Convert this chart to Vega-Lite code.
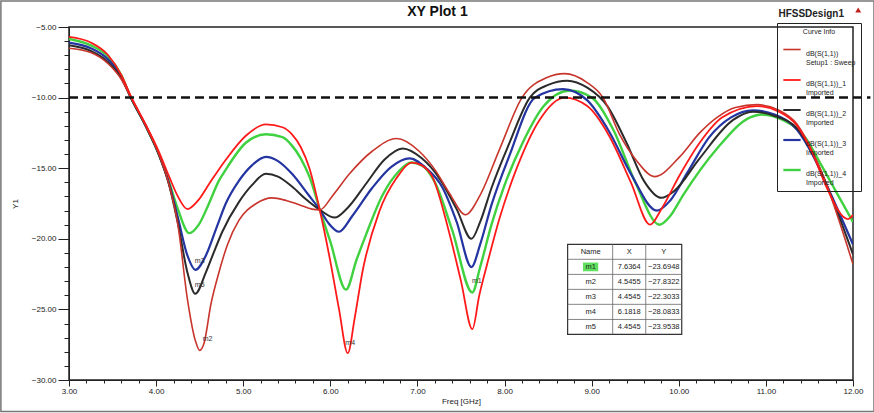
{
  "$schema": "https://vega.github.io/schema/vega-lite/v6.json",
  "width": 784,
  "height": 353,
  "autosize": {"type": "none"},
  "padding": {"left": 69, "top": 27, "right": 21, "bottom": 33},
  "background": "white",
  "config": {"view": {"stroke": "#222", "strokeWidth": 1.5}, "font": "Liberation Sans"},
  "datasets": {
    "curves": [
      {"s":"dB(S(1,1))_4","f":3.00,"v":-5.85},{"s":"dB(S(1,1))_4","f":3.25,"v":-6.3},{"s":"dB(S(1,1))_4","f":3.45,"v":-7.1},{"s":"dB(S(1,1))_4","f":3.60,"v":-8.4},{"s":"dB(S(1,1))_4","f":3.71,"v":-10.0},{"s":"dB(S(1,1))_4","f":3.88,"v":-12.0},{"s":"dB(S(1,1))_4","f":4.03,"v":-14.0},{"s":"dB(S(1,1))_4","f":4.15,"v":-16.0},{"s":"dB(S(1,1))_4","f":4.25,"v":-17.9},{"s":"dB(S(1,1))_4","f":4.38,"v":-19.6},{"s":"dB(S(1,1))_4","f":4.49,"v":-19.0},{"s":"dB(S(1,1))_4","f":4.60,"v":-17.6},{"s":"dB(S(1,1))_4","f":4.72,"v":-15.9},{"s":"dB(S(1,1))_4","f":4.80,"v":-15.1},{"s":"dB(S(1,1))_4","f":5.03,"v":-13.2},{"s":"dB(S(1,1))_4","f":5.26,"v":-12.6},{"s":"dB(S(1,1))_4","f":5.45,"v":-12.8},{"s":"dB(S(1,1))_4","f":5.56,"v":-13.4},{"s":"dB(S(1,1))_4","f":5.66,"v":-14.3},{"s":"dB(S(1,1))_4","f":5.76,"v":-15.6},{"s":"dB(S(1,1))_4","f":5.88,"v":-17.95},{"s":"dB(S(1,1))_4","f":6.00,"v":-20.2},{"s":"dB(S(1,1))_4","f":6.18,"v":-23.6},{"s":"dB(S(1,1))_4","f":6.30,"v":-21.5},{"s":"dB(S(1,1))_4","f":6.41,"v":-19.7},{"s":"dB(S(1,1))_4","f":6.60,"v":-16.9},{"s":"dB(S(1,1))_4","f":6.79,"v":-15.2},{"s":"dB(S(1,1))_4","f":6.93,"v":-14.6},{"s":"dB(S(1,1))_4","f":7.05,"v":-14.8},{"s":"dB(S(1,1))_4","f":7.20,"v":-16.0},{"s":"dB(S(1,1))_4","f":7.40,"v":-19.4},{"s":"dB(S(1,1))_4","f":7.63,"v":-23.8},{"s":"dB(S(1,1))_4","f":7.72,"v":-22.0},{"s":"dB(S(1,1))_4","f":7.85,"v":-19.0},{"s":"dB(S(1,1))_4","f":8.00,"v":-16.2},{"s":"dB(S(1,1))_4","f":8.20,"v":-13.3},{"s":"dB(S(1,1))_4","f":8.45,"v":-10.6},{"s":"dB(S(1,1))_4","f":8.75,"v":-9.5},{"s":"dB(S(1,1))_4","f":9.00,"v":-10.0},{"s":"dB(S(1,1))_4","f":9.25,"v":-12.3},{"s":"dB(S(1,1))_4","f":9.50,"v":-16.0},{"s":"dB(S(1,1))_4","f":9.78,"v":-19.0},{"s":"dB(S(1,1))_4","f":9.90,"v":-18.4},{"s":"dB(S(1,1))_4","f":10.05,"v":-16.9},{"s":"dB(S(1,1))_4","f":10.44,"v":-13.6},{"s":"dB(S(1,1))_4","f":10.82,"v":-11.4},{"s":"dB(S(1,1))_4","f":10.95,"v":-11.2},{"s":"dB(S(1,1))_4","f":11.20,"v":-11.6},{"s":"dB(S(1,1))_4","f":11.45,"v":-12.8},{"s":"dB(S(1,1))_4","f":11.62,"v":-14.6},{"s":"dB(S(1,1))_4","f":11.80,"v":-16.6},{"s":"dB(S(1,1))_4","f":12.00,"v":-18.8},

      {"s":"dB(S(1,1))_3","f":3.00,"v":-6.1},{"s":"dB(S(1,1))_3","f":3.25,"v":-6.5},{"s":"dB(S(1,1))_3","f":3.45,"v":-7.3},{"s":"dB(S(1,1))_3","f":3.60,"v":-8.5},{"s":"dB(S(1,1))_3","f":3.71,"v":-10.0},{"s":"dB(S(1,1))_3","f":3.88,"v":-12.0},{"s":"dB(S(1,1))_3","f":4.03,"v":-14.0},{"s":"dB(S(1,1))_3","f":4.15,"v":-16.1},{"s":"dB(S(1,1))_3","f":4.25,"v":-18.5},{"s":"dB(S(1,1))_3","f":4.36,"v":-21.2},{"s":"dB(S(1,1))_3","f":4.45,"v":-22.2},{"s":"dB(S(1,1))_3","f":4.57,"v":-21.2},{"s":"dB(S(1,1))_3","f":4.70,"v":-19.1},{"s":"dB(S(1,1))_3","f":4.80,"v":-17.5},{"s":"dB(S(1,1))_3","f":4.95,"v":-15.9},{"s":"dB(S(1,1))_3","f":5.10,"v":-14.8},{"s":"dB(S(1,1))_3","f":5.26,"v":-14.2},{"s":"dB(S(1,1))_3","f":5.40,"v":-14.5},{"s":"dB(S(1,1))_3","f":5.56,"v":-15.4},{"s":"dB(S(1,1))_3","f":5.75,"v":-16.9},{"s":"dB(S(1,1))_3","f":5.88,"v":-17.95},{"s":"dB(S(1,1))_3","f":5.98,"v":-18.9},{"s":"dB(S(1,1))_3","f":6.10,"v":-19.5},{"s":"dB(S(1,1))_3","f":6.25,"v":-18.4},{"s":"dB(S(1,1))_3","f":6.48,"v":-16.4},{"s":"dB(S(1,1))_3","f":6.70,"v":-14.9},{"s":"dB(S(1,1))_3","f":6.91,"v":-14.3},{"s":"dB(S(1,1))_3","f":7.10,"v":-15.0},{"s":"dB(S(1,1))_3","f":7.29,"v":-16.4},{"s":"dB(S(1,1))_3","f":7.45,"v":-18.8},{"s":"dB(S(1,1))_3","f":7.62,"v":-22.0},{"s":"dB(S(1,1))_3","f":7.72,"v":-20.4},{"s":"dB(S(1,1))_3","f":7.85,"v":-17.6},{"s":"dB(S(1,1))_3","f":8.05,"v":-14.2},{"s":"dB(S(1,1))_3","f":8.35,"v":-10.0},{"s":"dB(S(1,1))_3","f":8.67,"v":-9.4},{"s":"dB(S(1,1))_3","f":8.95,"v":-10.2},{"s":"dB(S(1,1))_3","f":9.20,"v":-12.4},{"s":"dB(S(1,1))_3","f":9.45,"v":-15.4},{"s":"dB(S(1,1))_3","f":9.75,"v":-18.0},{"s":"dB(S(1,1))_3","f":9.90,"v":-17.3},{"s":"dB(S(1,1))_3","f":10.10,"v":-15.3},{"s":"dB(S(1,1))_3","f":10.35,"v":-12.8},{"s":"dB(S(1,1))_3","f":10.60,"v":-11.4},{"s":"dB(S(1,1))_3","f":10.85,"v":-10.9},{"s":"dB(S(1,1))_3","f":11.10,"v":-11.2},{"s":"dB(S(1,1))_3","f":11.36,"v":-12.3},{"s":"dB(S(1,1))_3","f":11.54,"v":-14.1},{"s":"dB(S(1,1))_3","f":11.75,"v":-16.9},{"s":"dB(S(1,1))_3","f":12.00,"v":-20.4},

      {"s":"dB(S(1,1))_2","f":3.00,"v":-6.3},{"s":"dB(S(1,1))_2","f":3.25,"v":-6.7},{"s":"dB(S(1,1))_2","f":3.45,"v":-7.5},{"s":"dB(S(1,1))_2","f":3.60,"v":-8.6},{"s":"dB(S(1,1))_2","f":3.71,"v":-10.0},{"s":"dB(S(1,1))_2","f":3.88,"v":-12.0},{"s":"dB(S(1,1))_2","f":4.03,"v":-14.0},{"s":"dB(S(1,1))_2","f":4.15,"v":-16.2},{"s":"dB(S(1,1))_2","f":4.25,"v":-18.9},{"s":"dB(S(1,1))_2","f":4.36,"v":-22.4},{"s":"dB(S(1,1))_2","f":4.45,"v":-23.9},{"s":"dB(S(1,1))_2","f":4.57,"v":-22.4},{"s":"dB(S(1,1))_2","f":4.66,"v":-21.0},{"s":"dB(S(1,1))_2","f":4.76,"v":-19.5},{"s":"dB(S(1,1))_2","f":4.95,"v":-17.4},{"s":"dB(S(1,1))_2","f":5.10,"v":-16.2},{"s":"dB(S(1,1))_2","f":5.26,"v":-15.4},{"s":"dB(S(1,1))_2","f":5.40,"v":-15.6},{"s":"dB(S(1,1))_2","f":5.56,"v":-16.3},{"s":"dB(S(1,1))_2","f":5.72,"v":-17.2},{"s":"dB(S(1,1))_2","f":5.88,"v":-17.95},{"s":"dB(S(1,1))_2","f":6.05,"v":-18.5},{"s":"dB(S(1,1))_2","f":6.20,"v":-17.8},{"s":"dB(S(1,1))_2","f":6.41,"v":-16.1},{"s":"dB(S(1,1))_2","f":6.62,"v":-14.4},{"s":"dB(S(1,1))_2","f":6.83,"v":-13.6},{"s":"dB(S(1,1))_2","f":7.05,"v":-14.3},{"s":"dB(S(1,1))_2","f":7.25,"v":-15.7},{"s":"dB(S(1,1))_2","f":7.45,"v":-17.9},{"s":"dB(S(1,1))_2","f":7.62,"v":-20.0},{"s":"dB(S(1,1))_2","f":7.72,"v":-18.8},{"s":"dB(S(1,1))_2","f":7.85,"v":-16.4},{"s":"dB(S(1,1))_2","f":8.05,"v":-13.3},{"s":"dB(S(1,1))_2","f":8.29,"v":-10.0},{"s":"dB(S(1,1))_2","f":8.50,"v":-9.1},{"s":"dB(S(1,1))_2","f":8.72,"v":-8.8},{"s":"dB(S(1,1))_2","f":8.95,"v":-9.3},{"s":"dB(S(1,1))_2","f":9.18,"v":-10.6},{"s":"dB(S(1,1))_2","f":9.40,"v":-13.2},{"s":"dB(S(1,1))_2","f":9.60,"v":-15.9},{"s":"dB(S(1,1))_2","f":9.80,"v":-17.1},{"s":"dB(S(1,1))_2","f":9.95,"v":-16.6},{"s":"dB(S(1,1))_2","f":10.24,"v":-14.3},{"s":"dB(S(1,1))_2","f":10.62,"v":-11.6},{"s":"dB(S(1,1))_2","f":10.85,"v":-11.0},{"s":"dB(S(1,1))_2","f":11.10,"v":-11.3},{"s":"dB(S(1,1))_2","f":11.36,"v":-12.2},{"s":"dB(S(1,1))_2","f":11.54,"v":-14.0},{"s":"dB(S(1,1))_2","f":11.75,"v":-17.0},{"s":"dB(S(1,1))_2","f":12.00,"v":-21.1},

      {"s":"dB(S(1,1))","f":3.00,"v":-6.5},{"s":"dB(S(1,1))","f":3.25,"v":-6.8},{"s":"dB(S(1,1))","f":3.45,"v":-7.6},{"s":"dB(S(1,1))","f":3.60,"v":-8.7},{"s":"dB(S(1,1))","f":3.71,"v":-10.0},{"s":"dB(S(1,1))","f":3.88,"v":-12.0},{"s":"dB(S(1,1))","f":4.03,"v":-14.0},{"s":"dB(S(1,1))","f":4.15,"v":-16.2},{"s":"dB(S(1,1))","f":4.25,"v":-19.0},{"s":"dB(S(1,1))","f":4.36,"v":-24.3},{"s":"dB(S(1,1))","f":4.45,"v":-27.2},{"s":"dB(S(1,1))","f":4.50,"v":-27.9},{"s":"dB(S(1,1))","f":4.55,"v":-27.4},{"s":"dB(S(1,1))","f":4.63,"v":-24.6},{"s":"dB(S(1,1))","f":4.72,"v":-22.4},{"s":"dB(S(1,1))","f":4.82,"v":-20.4},{"s":"dB(S(1,1))","f":4.95,"v":-18.7},{"s":"dB(S(1,1))","f":5.15,"v":-17.5},{"s":"dB(S(1,1))","f":5.33,"v":-17.1},{"s":"dB(S(1,1))","f":5.50,"v":-17.3},{"s":"dB(S(1,1))","f":5.65,"v":-17.6},{"s":"dB(S(1,1))","f":5.79,"v":-17.9},{"s":"dB(S(1,1))","f":5.88,"v":-17.95},{"s":"dB(S(1,1))","f":6.02,"v":-17.0},{"s":"dB(S(1,1))","f":6.22,"v":-15.4},{"s":"dB(S(1,1))","f":6.48,"v":-13.8},{"s":"dB(S(1,1))","f":6.76,"v":-12.9},{"s":"dB(S(1,1))","f":7.02,"v":-13.8},{"s":"dB(S(1,1))","f":7.20,"v":-15.1},{"s":"dB(S(1,1))","f":7.37,"v":-16.8},{"s":"dB(S(1,1))","f":7.55,"v":-18.3},{"s":"dB(S(1,1))","f":7.72,"v":-16.9},{"s":"dB(S(1,1))","f":7.94,"v":-13.7},{"s":"dB(S(1,1))","f":8.20,"v":-10.0},{"s":"dB(S(1,1))","f":8.48,"v":-8.6},{"s":"dB(S(1,1))","f":8.69,"v":-8.3},{"s":"dB(S(1,1))","f":8.94,"v":-8.9},{"s":"dB(S(1,1))","f":9.13,"v":-10.0},{"s":"dB(S(1,1))","f":9.32,"v":-12.6},{"s":"dB(S(1,1))","f":9.52,"v":-14.5},{"s":"dB(S(1,1))","f":9.72,"v":-15.6},{"s":"dB(S(1,1))","f":10.01,"v":-14.2},{"s":"dB(S(1,1))","f":10.24,"v":-12.5},{"s":"dB(S(1,1))","f":10.44,"v":-11.4},{"s":"dB(S(1,1))","f":10.65,"v":-10.7},{"s":"dB(S(1,1))","f":10.90,"v":-10.5},{"s":"dB(S(1,1))","f":11.15,"v":-10.9},{"s":"dB(S(1,1))","f":11.36,"v":-11.9},{"s":"dB(S(1,1))","f":11.54,"v":-13.9},{"s":"dB(S(1,1))","f":11.70,"v":-16.2},{"s":"dB(S(1,1))","f":11.85,"v":-18.9},{"s":"dB(S(1,1))","f":12.00,"v":-21.8},

      {"s":"dB(S(1,1))_1","f":3.00,"v":-5.7},{"s":"dB(S(1,1))_1","f":3.25,"v":-6.1},{"s":"dB(S(1,1))_1","f":3.45,"v":-7.0},{"s":"dB(S(1,1))_1","f":3.60,"v":-8.4},{"s":"dB(S(1,1))_1","f":3.71,"v":-9.9},{"s":"dB(S(1,1))_1","f":3.88,"v":-11.9},{"s":"dB(S(1,1))_1","f":4.03,"v":-13.8},{"s":"dB(S(1,1))_1","f":4.15,"v":-15.6},{"s":"dB(S(1,1))_1","f":4.25,"v":-17.0},{"s":"dB(S(1,1))_1","f":4.36,"v":-17.9},{"s":"dB(S(1,1))_1","f":4.48,"v":-17.3},{"s":"dB(S(1,1))_1","f":4.61,"v":-16.1},{"s":"dB(S(1,1))_1","f":4.80,"v":-14.4},{"s":"dB(S(1,1))_1","f":5.03,"v":-12.7},{"s":"dB(S(1,1))_1","f":5.26,"v":-11.9},{"s":"dB(S(1,1))_1","f":5.45,"v":-12.1},{"s":"dB(S(1,1))_1","f":5.56,"v":-12.6},{"s":"dB(S(1,1))_1","f":5.66,"v":-13.5},{"s":"dB(S(1,1))_1","f":5.76,"v":-15.0},{"s":"dB(S(1,1))_1","f":5.88,"v":-18.0},{"s":"dB(S(1,1))_1","f":6.00,"v":-21.6},{"s":"dB(S(1,1))_1","f":6.10,"v":-25.0},{"s":"dB(S(1,1))_1","f":6.20,"v":-28.1},{"s":"dB(S(1,1))_1","f":6.28,"v":-25.6},{"s":"dB(S(1,1))_1","f":6.37,"v":-22.3},{"s":"dB(S(1,1))_1","f":6.56,"v":-18.1},{"s":"dB(S(1,1))_1","f":6.76,"v":-15.7},{"s":"dB(S(1,1))_1","f":6.94,"v":-14.6},{"s":"dB(S(1,1))_1","f":7.05,"v":-14.8},{"s":"dB(S(1,1))_1","f":7.17,"v":-15.6},{"s":"dB(S(1,1))_1","f":7.37,"v":-19.7},{"s":"dB(S(1,1))_1","f":7.50,"v":-23.0},{"s":"dB(S(1,1))_1","f":7.63,"v":-26.4},{"s":"dB(S(1,1))_1","f":7.71,"v":-24.0},{"s":"dB(S(1,1))_1","f":7.80,"v":-21.8},{"s":"dB(S(1,1))_1","f":7.94,"v":-18.6},{"s":"dB(S(1,1))_1","f":8.14,"v":-15.0},{"s":"dB(S(1,1))_1","f":8.40,"v":-11.6},{"s":"dB(S(1,1))_1","f":8.69,"v":-10.0},{"s":"dB(S(1,1))_1","f":8.95,"v":-10.6},{"s":"dB(S(1,1))_1","f":9.20,"v":-12.7},{"s":"dB(S(1,1))_1","f":9.45,"v":-16.0},{"s":"dB(S(1,1))_1","f":9.67,"v":-19.0},{"s":"dB(S(1,1))_1","f":9.80,"v":-17.9},{"s":"dB(S(1,1))_1","f":10.01,"v":-15.5},{"s":"dB(S(1,1))_1","f":10.24,"v":-13.2},{"s":"dB(S(1,1))_1","f":10.50,"v":-11.4},{"s":"dB(S(1,1))_1","f":10.90,"v":-10.6},{"s":"dB(S(1,1))_1","f":11.15,"v":-11.0},{"s":"dB(S(1,1))_1","f":11.36,"v":-12.0},{"s":"dB(S(1,1))_1","f":11.54,"v":-14.0},{"s":"dB(S(1,1))_1","f":11.70,"v":-16.4},{"s":"dB(S(1,1))_1","f":11.94,"v":-18.6},{"s":"dB(S(1,1))_1","f":12.00,"v":-18.3}
    ],
    "markers": [
      {"Name":"m1","X":7.6364,"Y":-23.6948,"ty":-21.99},
      {"Name":"m2","X":4.5455,"Y":-27.8322,"ty":-23.05},
      {"Name":"m3","X":4.4545,"Y":-22.3033,"ty":-24.11},
      {"Name":"m4","X":6.1818,"Y":-28.0833,"ty":-25.18},
      {"Name":"m5","X":4.4545,"Y":-23.9538,"ty":-26.24}
    ]
  },
  "layer": [
    {
      "data": {"values": [{}]},
      "mark": {"type": "rect", "fillOpacity": 0, "stroke": "#777", "strokeWidth": 1.5, "clip": false},
      "encoding": {
        "x": {"datum": 2.218, "type": "quantitative", "axis": null},
        "x2": {"datum": 12.241},
        "y": {"datum": -3.156, "type": "quantitative", "axis": null},
        "y2": {"datum": -32.23}
      }
    },
    {
      "data": {"name": "curves"},
      "mark": {"type": "line", "interpolate": "monotone", "clip": true},
      "encoding": {
        "x": {"field": "f", "type": "quantitative", "scale": {"domain": [3, 12], "nice": false, "zero": false},
          "axis": {"values": [3,4,5,6,7,8,9,10,11,12], "format": ".2f", "title": "Freq [GHz]", "titleFontSize": 8, "titleFontWeight": "normal", "titleColor": "#222", "titlePadding": 2, "labelFontSize": 8, "labelColor": "#222", "tickSize": 6, "labelPadding": 1, "domainColor": "#222", "tickColor": "#222", "grid": false, "labelFlush": false}},
        "y": {"field": "v", "type": "quantitative", "scale": {"domain": [-30, -5], "nice": false, "zero": false},
          "axis": {"values": [-5,-10,-15,-20,-25,-30], "format": ".2f", "title": "Y1", "titleFontSize": 8, "titleFontWeight": "normal", "titleColor": "#222", "titlePadding": 12, "labelFontSize": 8, "labelColor": "#222", "tickSize": 11, "labelPadding": 2, "domainColor": "#222", "tickColor": "#222", "grid": false}},
        "color": {"field": "s", "type": "nominal",
          "scale": {"domain": ["dB(S(1,1))", "dB(S(1,1))_1", "dB(S(1,1))_2", "dB(S(1,1))_3", "dB(S(1,1))_4"], "range": ["#c8352c", "#ff1a1a", "#2b2b2b", "#2434a0", "#3fd13f"]},
          "legend": {"orient": "none", "legendX": 708, "legendY": -4, "title": "Curve Info", "titleFontSize": 7, "titleFontWeight": "normal", "titleColor": "#222", "titleAnchor": "middle", "labelFontSize": 7, "labelColor": "#222", "symbolType": "stroke", "symbolSize": 300, "symbolStrokeWidth": 2, "strokeColor": "#222", "padding": 5, "rowPadding": 4, "labelLimit": 200, "labelBaseline": "top", "labelExpr": "[datum.label, datum.label == 'dB(S(1,1))' ? 'Setup1 : Sweep' : 'Imported']"}},
        "strokeWidth": {"field": "s", "type": "ordinal",
          "scale": {"domain": ["dB(S(1,1))", "dB(S(1,1))_1", "dB(S(1,1))_2", "dB(S(1,1))_3", "dB(S(1,1))_4"], "range": [1.6, 2.4, 1.7, 1.7, 1.7]},
          "legend": null}
      }
    },
    {
      "data": {"values": [{}]},
      "mark": {"type": "point", "opacity": 0},
      "encoding": {
        "x": {"datum": 3, "type": "quantitative", "axis": {"orient": "bottom", "values": [3.2,3.4,3.6,3.8,4.2,4.4,4.6,4.8,5.2,5.4,5.6,5.8,6.2,6.4,6.6,6.8,7.2,7.4,7.6,7.8,8.2,8.4,8.6,8.8,9.2,9.4,9.6,9.8,10.2,10.4,10.6,10.8,11.2,11.4,11.6,11.8], "labels": false, "tickSize": 3, "domain": false, "title": null, "grid": false, "tickColor": "#222"}},
        "y": {"datum": -5, "type": "quantitative", "axis": {"orient": "left", "values": [-6,-7,-8,-9,-11,-12,-13,-14,-16,-17,-18,-19,-21,-22,-23,-24,-26,-27,-28,-29], "labels": false, "tickSize": 5, "domain": false, "title": null, "grid": false, "tickColor": "#222"}}
      }
    },
    {
      "data": {"values": [{}]},
      "mark": {"type": "rule", "strokeDash": [9, 5], "strokeWidth": 2.5, "color": "#111", "clip": false},
      "encoding": {
        "x": {"datum": 3, "type": "quantitative", "axis": null},
        "x2": {"datum": 12.2},
        "y": {"datum": -10, "type": "quantitative", "axis": null}
      }
    },
    {
      "data": {"name": "markers"},
      "mark": {"type": "text", "fontSize": 7, "color": "#333", "dx": 4, "dy": -10},
      "encoding": {
        "x": {"field": "X", "type": "quantitative", "axis": null},
        "y": {"field": "Y", "type": "quantitative", "axis": null},
        "text": {"field": "Name"}
      }
    },
    {
      "data": {"values": [{}]},
      "mark": {"type": "rect", "fill": "white", "stroke": "#333", "strokeWidth": 1.2},
      "encoding": {
        "x": {"datum": 8.724, "type": "quantitative", "axis": null},
        "x2": {"datum": 10.034},
        "y": {"datum": -20.39, "type": "quantitative", "axis": null},
        "y2": {"datum": -26.77}
      }
    },
    {
      "data": {"values": [{}]},
      "mark": {"type": "rect", "fill": "#5fe05f"},
      "encoding": {
        "x": {"datum": 8.9, "type": "quantitative", "axis": null},
        "x2": {"datum": 9.075},
        "y": {"datum": -21.68, "type": "quantitative", "axis": null},
        "y2": {"datum": -22.3}
      }
    },
    {
      "data": {"values": [{"ty": -20.92}, {"ty": -21.99}, {"ty": -23.05}, {"ty": -24.11}, {"ty": -25.18}]},
      "mark": {"type": "rule", "color": "#666", "strokeWidth": 0.8, "yOffset": 7.5},
      "encoding": {
        "x": {"datum": 8.724, "type": "quantitative", "axis": null},
        "x2": {"datum": 10.034},
        "y": {"field": "ty", "type": "quantitative", "axis": null}
      }
    },
    {
      "data": {"values": [{"c": 9.241}, {"c": 9.621}]},
      "mark": {"type": "rule", "color": "#666", "strokeWidth": 0.8},
      "encoding": {
        "x": {"field": "c", "type": "quantitative", "axis": null},
        "y": {"datum": -20.39, "type": "quantitative", "axis": null},
        "y2": {"datum": -26.77}
      }
    },
    {
      "data": {"values": [{"Name": "Name", "X": "X", "Y": "Y"}]},
      "layer": [
        {"mark": {"type": "text", "fontSize": 7.5, "color": "#222"}, "encoding": {"x": {"datum": 8.989, "type": "quantitative", "axis": null}, "y": {"datum": -20.92, "type": "quantitative", "axis": null}, "text": {"field": "Name"}}},
        {"mark": {"type": "text", "fontSize": 7.5, "color": "#222"}, "encoding": {"x": {"datum": 9.431, "type": "quantitative", "axis": null}, "y": {"datum": -20.92, "type": "quantitative", "axis": null}, "text": {"field": "X"}}},
        {"mark": {"type": "text", "fontSize": 7.5, "color": "#222"}, "encoding": {"x": {"datum": 9.828, "type": "quantitative", "axis": null}, "y": {"datum": -20.92, "type": "quantitative", "axis": null}, "text": {"field": "Y"}}}
      ]
    },
    {
      "data": {"name": "markers"},
      "layer": [
        {"mark": {"type": "text", "fontSize": 7.5, "color": "#222"}, "encoding": {"x": {"datum": 8.989, "type": "quantitative", "axis": null}, "y": {"field": "ty", "type": "quantitative", "axis": null}, "text": {"field": "Name"}}},
        {"mark": {"type": "text", "fontSize": 7.5, "color": "#222"}, "encoding": {"x": {"datum": 9.431, "type": "quantitative", "axis": null}, "y": {"field": "ty", "type": "quantitative", "axis": null}, "text": {"field": "X", "format": ".4f"}}},
        {"mark": {"type": "text", "fontSize": 7.5, "color": "#222"}, "encoding": {"x": {"datum": 9.828, "type": "quantitative", "axis": null}, "y": {"field": "ty", "type": "quantitative", "axis": null}, "text": {"field": "Y", "format": ".4f"}}}
      ]
    },
    {
      "data": {"values": [{"t": "XY Plot 1"}]},
      "mark": {"type": "text", "fontSize": 14, "fontWeight": "bold", "color": "#111", "clip": false},
      "encoding": {
        "x": {"datum": 7.23, "type": "quantitative", "axis": null},
        "y": {"datum": -3.95, "type": "quantitative", "axis": null},
        "text": {"field": "t"}
      }
    },
    {
      "data": {"values": [{"t": "HFSSDesign1"}]},
      "mark": {"type": "text", "fontSize": 10, "fontWeight": "bold", "color": "#222", "clip": false},
      "encoding": {
        "x": {"datum": 11.52, "type": "quantitative", "axis": null},
        "y": {"datum": -4.05, "type": "quantitative", "axis": null},
        "text": {"field": "t"}
      }
    },
    {
      "data": {"values": [{}]},
      "mark": {"type": "point", "shape": "triangle-up", "filled": true, "color": "#c0201a", "size": 35, "opacity": 1, "clip": false},
      "encoding": {
        "x": {"datum": 12.06, "type": "quantitative", "axis": null},
        "y": {"datum": -3.8, "type": "quantitative", "axis": null}
      }
    }
  ],
  "resolve": {"axis": {"x": "independent", "y": "independent"}}
}
